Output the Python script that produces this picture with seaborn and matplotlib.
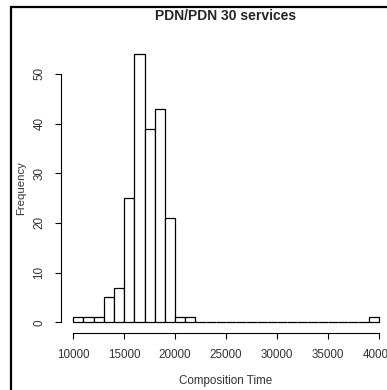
import matplotlib
matplotlib.use("Agg")
import matplotlib.pyplot as plt
import seaborn as sns
import numpy as np
from matplotlib.patches import Rectangle

# histogram of composition times, 1000-wide bins from 10000 to 40000
bin_edges = list(range(10000, 41000, 1000))
counts = [1, 1, 1, 5, 7, 25, 54, 39, 43, 21, 1, 1,
          0, 0, 0, 0, 0, 0, 0, 0, 0, 0, 0, 0, 0, 0, 0, 0, 0, 1]
x_ticks = [10000, 15000, 20000, 25000, 30000, 35000, 40000]
y_ticks = [0, 10, 20, 30, 40, 50]

centers = [(a + b) / 2 for a, b in zip(bin_edges[:-1], bin_edges[1:])]

sns.set_style("white")
plt.rcParams["font.family"] = ["Liberation Sans", "DejaVu Sans"]

fig = plt.figure(figsize=(3.87, 3.90), dpi=100)
ax = fig.add_axes([61 / 387, 1 - 333 / 390, 330 / 387, (333 - 43.4) / 390])

sns.histplot(x=centers, weights=counts, bins=bin_edges, ax=ax,
             color="white", edgecolor="black", linewidth=0.9, alpha=1)

ax.set_xlim(8800, 41200)
ax.set_ylim(-2.16, 56.16)
ax.set_xticks(x_ticks)
ax.set_yticks(y_ticks)
ax.set_xticklabels([str(t) for t in x_ticks], fontsize=8.4, color="#333333")
ax.set_yticklabels([str(t) for t in y_ticks], fontsize=8.4, color="#333333",
                   rotation=90, va="center")
ax.tick_params(axis="both", direction="out", length=4.3, width=0.8,
               color="black", pad=7, bottom=True, left=True)

for s in ["top", "right"]:
    ax.spines[s].set_visible(False)
ax.spines["left"].set_bounds(0, 50)
ax.spines["bottom"].set_bounds(10000, 40000)
for s in ["left", "bottom"]:
    ax.spines[s].set_color("black")
    ax.spines[s].set_linewidth(0.8)

ax.set_xlabel("Composition Time", fontsize=8.4, color="#333333", labelpad=10)
ax.set_ylabel("Frequency", fontsize=8.2, color="#333333", labelpad=5)
ax.set_title("PDN/PDN 30 services", fontsize=10, fontweight="bold", pad=17)

# outer frame (only top and left visible in the crop)
fig.add_artist(Rectangle((11 / 387, -0.1), 1.2, 1.1 - 7 / 390,
                         transform=fig.transFigure, fill=False,
                         edgecolor="black", linewidth=1.6))

fig.savefig("out.png", dpi=100)
